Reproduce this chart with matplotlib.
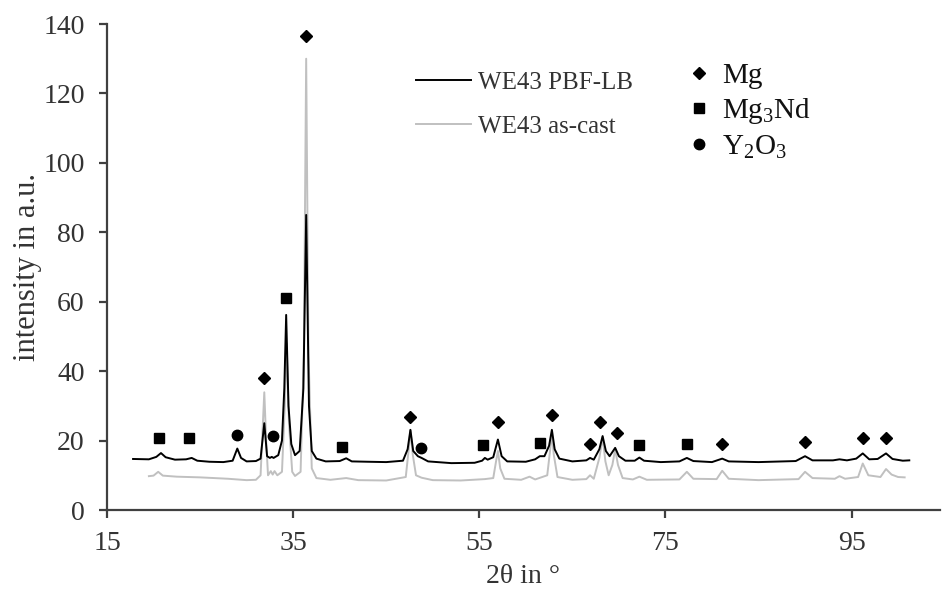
import matplotlib
matplotlib.use("Agg")
import matplotlib.pyplot as plt

plt.rcParams['font.family'] = ['Liberation Serif', 'DejaVu Serif']
plt.rcParams['mathtext.fontset'] = 'custom'
plt.rcParams['mathtext.rm'] = 'Liberation Serif'
plt.rcParams['mathtext.it'] = 'Liberation Serif:italic'

# ---------------- data ----------------
two_theta_pbf = [17.8, 19.5, 20.3, 20.8, 21.3, 22.3, 23.5, 24.1, 24.7, 26.0, 27.5, 28.5,
                 29.0, 29.4, 30.0, 31.0, 31.5, 31.9, 32.2, 32.5, 32.7, 32.9, 33.4, 33.8,
                 34.05, 34.25, 34.5, 34.8, 35.2, 35.7, 36.1, 36.4, 36.7, 37.0, 37.5, 38.5,
                 40.0, 40.7, 41.3, 43.0, 45.0, 46.8, 47.3, 47.6, 47.9, 48.4, 48.8, 49.5,
                 52.0, 54.5, 55.3, 55.6, 55.9, 56.5, 57.0, 57.4, 58.0, 60.0, 61.0, 61.5,
                 62.0, 62.5, 62.8, 63.1, 63.6, 65.0, 66.5, 66.9, 67.3, 67.9, 68.25, 68.6,
                 69.0, 69.6, 70.0, 70.7, 71.7, 72.2, 72.7, 74.5, 76.5, 77.3, 78.0, 80.0,
                 81.1, 81.8, 85.0, 89.0, 90.0, 90.8, 93.0, 93.7, 94.5, 95.5, 96.2, 96.9,
                 97.8, 98.7, 99.4, 100.5, 101.2]
intensity_pbf = [14.7, 14.6, 15.3, 16.4, 15.2, 14.5, 14.6, 15.0, 14.2, 13.9, 13.8, 14.2,
                 17.7, 15.0, 14.0, 14.1, 14.8, 25.0, 15.5, 15.0, 15.3, 15.0, 15.8, 20.0,
                 35.0, 56.2, 30.0, 19.0, 15.8, 17.0, 35.0, 85.0, 30.0, 17.0, 14.8, 14.0,
                 14.1, 14.9, 14.0, 13.9, 13.8, 14.2, 17.5, 23.1, 17.0, 15.5, 15.0, 14.0,
                 13.5, 13.6, 14.2, 15.0, 14.5, 15.2, 20.3, 15.5, 14.0, 13.9, 14.6, 15.5,
                 15.5, 18.5, 23.1, 17.5, 14.8, 14.0, 14.3, 15.0, 14.5, 17.5, 21.3, 17.0,
                 15.5, 17.9, 15.5, 14.2, 14.2, 15.1, 14.2, 13.8, 14.0, 15.0, 14.1, 13.8,
                 14.8, 14.0, 13.8, 14.1, 15.5, 14.3, 14.3, 14.6, 14.3, 14.8, 16.3, 14.6,
                 14.7, 16.3, 14.7, 14.2, 14.3]

two_theta_cast = [19.5, 20.0, 20.5, 21.0, 22.5, 25.0, 28.0, 30.0, 31.0, 31.5, 31.75, 31.9,
                  32.1, 32.3, 32.6, 32.8, 33.0, 33.3, 33.8, 34.1, 34.3, 34.55, 34.9, 35.2,
                  35.8, 36.15, 36.4, 36.65, 37.0, 37.5, 39.0, 40.7, 42.0, 45.0, 47.1, 47.4,
                  47.6, 47.85, 48.2, 48.8, 50.0, 53.0, 55.6, 56.5, 56.8, 57.0, 57.25, 57.7,
                  59.5, 60.4, 61.0, 62.3, 62.6, 62.8, 63.0, 63.4, 65.0, 66.5, 66.9, 67.3,
                  67.9, 68.25, 68.55, 68.9, 69.3, 69.6, 69.9, 70.4, 71.5, 72.2, 73.0, 76.5,
                  77.3, 78.0, 80.5, 81.1, 81.8, 85.0, 89.3, 90.0, 90.8, 93.2, 93.7, 94.3,
                  95.7, 96.2, 96.8, 98.1, 98.7, 99.3, 100.0, 100.7]
intensity_cast = [9.75, 9.9, 11.0, 9.9, 9.6, 9.4, 9.0, 8.6, 8.7, 10.0, 25.0, 33.9,
                  20.0, 10.0, 11.2, 10.2, 11.2, 10.0, 11.0, 30.0, 48.0, 25.0, 11.0, 9.8,
                  11.0, 45.0, 130.0, 45.0, 12.0, 9.2, 8.7, 9.2, 8.6, 8.5, 9.5, 17.0,
                  23.0, 16.0, 10.0, 9.3, 8.6, 8.5, 8.9, 9.2, 14.0, 17.0, 12.0, 9.0,
                  8.7, 9.6, 8.8, 10.0, 17.0, 22.0, 16.0, 9.5, 8.7, 8.9, 10.0, 9.0,
                  15.0, 21.0, 14.0, 10.0, 13.0, 17.5, 13.0, 9.2, 8.8, 9.6, 8.7, 8.8,
                  11.0, 9.0, 8.9, 11.3, 9.0, 8.6, 8.9, 11.0, 9.2, 9.0, 9.75, 9.0,
                  9.5, 13.4, 10.0, 9.5, 11.8, 10.2, 9.5, 9.4]

mg_x = [31.9, 36.4, 47.6, 57.0, 62.8, 66.9, 68.0, 69.8, 81.1, 90.0, 96.2, 98.7]
mg_y = [38.0, 136.5, 26.7, 25.3, 27.5, 18.9, 25.3, 22.2, 19.1, 19.6, 20.6, 20.6]
mg3nd_x = [20.6, 23.8, 34.25, 40.2, 55.4, 61.5, 72.2, 77.3]
mg3nd_y = [20.6, 20.7, 61.2, 18.2, 18.6, 19.4, 18.6, 19.1]
y2o3_x = [29.0, 32.8, 48.7]
y2o3_y = [21.5, 21.2, 18.0]

series_labels = ["WE43 PBF-LB", "WE43 as-cast"]
phase_labels = ["Mg", "Mg$_{\\mathrm{3}}$Nd", "Y$_{\\mathrm{2}}$O$_{\\mathrm{3}}$"]
x_ticks = [15, 35, 55, 75, 95]
y_ticks = [0, 20, 40, 60, 80, 100, 120, 140]

# ---------------- figure ----------------
fig = plt.figure(figsize=(9.42, 5.91), dpi=100)
ax = fig.add_axes([107 / 942, 1 - 510 / 591, (940 - 107) / 942, (510 - 24) / 591])

l_cast, = ax.plot(two_theta_cast, intensity_cast, color='#c0c0c0', lw=1.4, zorder=2)
l_pbf, = ax.plot(two_theta_pbf, intensity_pbf, color='black', lw=1.4, zorder=3)

m_mg, = ax.plot(mg_x, mg_y, ls='none', marker='D', ms=6.0, color='black', zorder=4)
m_nd, = ax.plot(mg3nd_x, mg3nd_y, ls='none', marker='s', ms=7.5, color='black', zorder=4)
m_y, = ax.plot(y2o3_x, y2o3_y, ls='none', marker='o', ms=7.5, color='black', zorder=4)

ax.set_xlim(15, 104.5)
ax.set_ylim(0, 140)
ax.set_xticks(x_ticks)
ax.set_yticks(y_ticks)

for s in ['top', 'right']:
    ax.spines[s].set_visible(False)
for s in ['left', 'bottom']:
    ax.spines[s].set_color('#404040')
    ax.spines[s].set_linewidth(1.6)

ax.tick_params(axis='both', direction='out', length=6, width=1.6, color='#404040',
               labelsize=20, labelcolor='#333333')
ax.tick_params(axis='x', pad=9)
ax.tick_params(axis='y', pad=10)

ax.set_xlabel("2θ in °", fontsize=20, color='#333333', labelpad=6)
ax.set_ylabel("intensity in a.u.", fontsize=22, color='#333333', labelpad=1)

leg1 = ax.legend([l_pbf, l_cast], series_labels, loc='upper left',
                 bbox_to_anchor=(0.3445, 0.9486), frameon=False, fontsize=18,
                 handlelength=2.2, handletextpad=0.25, labelspacing=0.85,
                 labelcolor='#333333')
ax.add_artist(leg1)
leg2 = ax.legend([m_mg, m_nd, m_y], phase_labels, loc='upper left',
                 bbox_to_anchor=(0.665, 0.9745), frameon=False, fontsize=21,
                 handlelength=0.8, handletextpad=0.39, labelspacing=0.25,
                 labelcolor='#111111')

fig.savefig("out.png", dpi=100)
